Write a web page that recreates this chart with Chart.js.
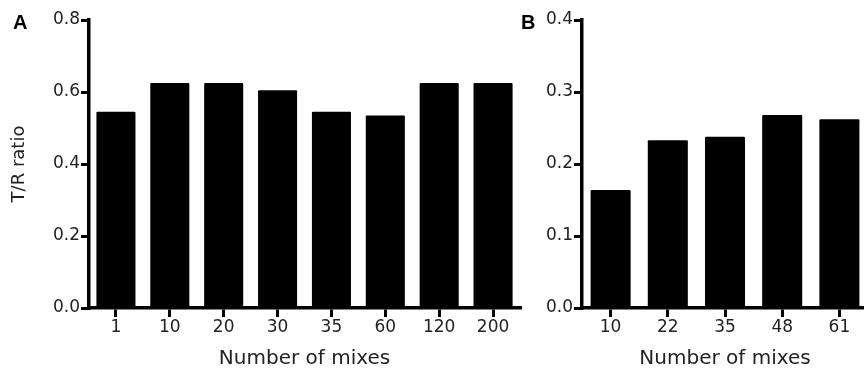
<!DOCTYPE html>
<html>
<head>
<meta charset="utf-8">
<script src="https://cdn.jsdelivr.net/npm/chart.js@4.4.1/dist/chart.umd.min.js"></script>
<style>
  html, body { margin: 0; padding: 0; background: #fff; }
  #wrap { position: relative; width: 864px; height: 369px; overflow: hidden; background: #fff; }
  canvas { position: absolute; top: 0; }
  #cA { left: 0; }
  #cB { left: 500px; }
  .panel { position: absolute; font-family: "Liberation Sans", Arial, sans-serif; font-weight: bold; font-size: 20px; color: #000; line-height: 1; }
</style>
</head>
<body>
<div id="wrap">
  <canvas id="cA" width="540" height="369"></canvas>
  <canvas id="cB" width="400" height="369"></canvas>
  <div class="panel" style="left:13px; top:12px;">A</div>
  <div class="panel" style="left:521px; top:12px;">B</div>
</div>
<script>
// ---- data ----
const categoriesA = ['1', '10', '20', '30', '35', '60', '120', '200'];
const valuesA = [0.545, 0.625, 0.625, 0.605, 0.545, 0.535, 0.625, 0.625];
const yTickLabelsA = ['0.0', '0.2', '0.4', '0.6', '0.8'];

const categoriesB = ['10', '22', '35', '48', '61'];
const valuesB = [0.164, 0.233, 0.238, 0.268, 0.262];
const yTickLabelsB = ['0.0', '0.1', '0.2', '0.3', '0.4'];

const yTitle = 'T/R ratio';
const xTitle = 'Number of mixes';

// ---- styling ----
const FONT = '"DejaVu Sans", sans-serif';
const TXT = '#222';

function makeChart(id, cats, vals, yLabels, yMax, yStep, yWidth, padRight, barPct, showYTitle) {
  return new Chart(document.getElementById(id), {
    type: 'bar',
    data: {
      labels: cats,
      datasets: [{
        data: vals,
        backgroundColor: '#000',
        borderWidth: 0,
        borderRadius: 1,
        categoryPercentage: 1.0,
        barPercentage: barPct
      }]
    },
    options: {
      responsive: false,
      animation: false,
      devicePixelRatio: 1,
      layout: { padding: { top: 20, right: padRight, left: 0, bottom: 0 } },
      plugins: { legend: { display: false }, tooltip: { enabled: false } },
      scales: {
        x: {
          offset: true,
          grid: { offset: false, drawOnChartArea: false, drawTicks: true, tickLength: 9, color: '#000', lineWidth: 3 },
          border: { display: true, color: '#000', width: 3.5 },
          ticks: { color: TXT, font: { family: FONT, size: 17 }, padding: 0, maxRotation: 0, autoSkip: false },
          title: { display: true, text: xTitle, color: TXT, font: { family: FONT, size: 20, lineHeight: 1 }, padding: { top: 0, bottom: 0 } },
          afterFit: s => { s.height = 61; }
        },
        y: {
          min: 0,
          max: yMax,
          ticks: {
            stepSize: yStep,
            color: TXT,
            font: { family: FONT, size: 17 },
            padding: 1,
            callback: (v, i) => yLabels[i]
          },
          grid: { drawOnChartArea: false, drawTicks: true, tickLength: 8, color: '#000', lineWidth: 3 },
          border: { display: true, color: '#000', width: 3.5 },
          title: { display: showYTitle, text: yTitle, color: TXT, font: { family: FONT, size: 18, lineHeight: 1 }, padding: { top: 10, bottom: 0 } },
          afterFit: s => { s.width = yWidth; }
        }
      }
    }
  });
}

makeChart('cA', categoriesA, valuesA, yTickLabelsA, 0.8, 0.2, 89, 20, 0.725, true);
makeChart('cB', categoriesB, valuesB, yTickLabelsB, 0.4, 0.1, 82, 32, 0.70, false);
</script>
</body>
</html>
